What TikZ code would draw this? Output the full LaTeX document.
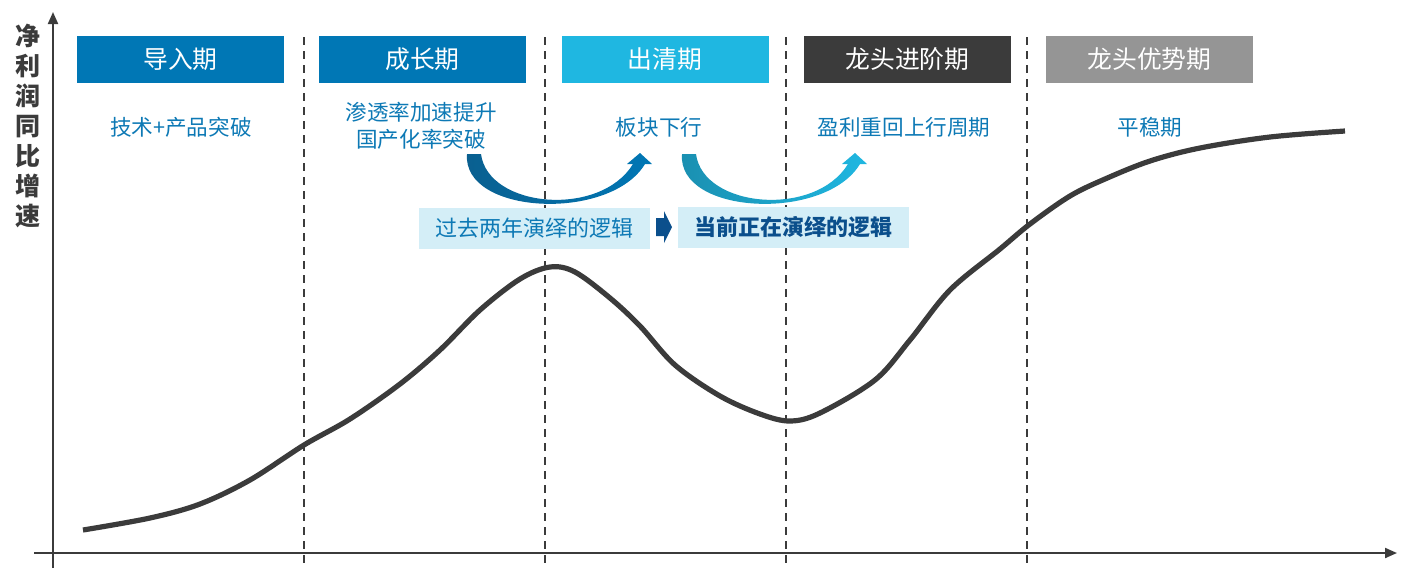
\documentclass[tikz,border=0pt]{standalone}
\usepackage{fontspec}
\setmainfont{Noto Sans CJK SC}
\usetikzlibrary{arrows.meta}
\definecolor{boxblue}{HTML}{0077B5}
\definecolor{boxcyan}{HTML}{1FB7E1}
\definecolor{boxdark}{HTML}{3B3B3B}
\definecolor{boxgray}{HTML}{959595}
\definecolor{txtblue}{HTML}{0D79B5}
\definecolor{lightbg}{HTML}{D4EEF7}
\definecolor{navy}{HTML}{0B4F8C}
\definecolor{arrdark}{HTML}{0A5F8F}
\definecolor{arrcyandark}{HTML}{1A8FB0}
\tikzset{
  phasebox/.style={minimum width=103.5pt,minimum height=23.5pt,inner sep=0pt,text=white,font=\fontsize{12.4}{14}\selectfont},
  sublabel/.style={text=txtblue,font=\fontsize{10.8}{13.5}\selectfont,align=center,inner sep=0pt},
  logicbox/.style={fill=lightbg,minimum width=115.5pt,minimum height=20.5pt,inner sep=0pt,font=\fontsize{11}{13}\selectfont},
  divider/.style={draw=boxdark,line width=0.75pt,dash pattern=on 4pt off 3pt},
  axis/.style={draw=boxdark,line width=1pt},
}
\newcommand\mycurvedarrow[2]{%
  \shade[left color=#1,right color=#2]
    (467,154) -- (481,154) .. controls (488,208) and (600,218) .. (633,164)
    -- (627,164) -- (640,153) -- (652,164) -- (645,164)
    .. controls (610,222) and (462,215) .. (467,154) -- cycle;}
\begin{document}
\begin{tikzpicture}[x=0.5pt,y=-0.5pt]
\useasboundingbox (0,0) rectangle (1410,570);
% axes
\coordinate (ybot) at (53,568);
\coordinate (ytop) at (53,12);
\coordinate (xl) at (34,553);
\coordinate (xr) at (1397,553);
\draw[axis,-{Triangle[length=6pt,width=5pt]}] (ybot) -- (ytop);
\draw[axis,-{Triangle[length=6pt,width=5pt]}] (xl) -- (xr);
% dividers
\foreach \x/\n in {304/a,545/b,786/c,1027/d}{
  \coordinate (dt\n) at (\x,37);
  \coordinate (db\n) at (\x,563);
  \draw[divider] (dt\n) -- (db\n);
}
% y label
\node[text=boxdark,font=\fontsize{12.5}{15}\selectfont\bfseries,align=center,inner sep=0pt,anchor=north] (ylabel) at (28,24)
  {净\\利\\润\\同\\比\\增\\速};
% phase boxes
\node[phasebox,fill=boxblue] (p1) at (180.5,59.5) {导入期};
\node[phasebox,fill=boxblue] (p2) at (422.5,59.5) {成长期};
\node[phasebox,fill=boxcyan] (p3) at (665,59.5) {出清期};
\node[phasebox,fill=boxdark] (p4) at (907.5,59.5) {龙头进阶期};
\node[phasebox,fill=boxgray] (p5) at (1149.5,59.5) {龙头优势期};
% sub labels
\node[sublabel] (s1) at (181,127) {技术+产品突破};
\node[sublabel] (s2) at (421,125.5) {渗透率加速提升\\国产化率突破};
\node[sublabel] (s3) at (659,127) {板块下行};
\node[sublabel] (s4) at (904,127) {盈利重回上行周期};
\node[sublabel] (s5) at (1150,127) {平稳期};
% curved arrows
\mycurvedarrow{arrdark}{boxblue}
\begin{scope}[xshift=107.5pt]
\mycurvedarrow{arrcyandark}{boxcyan}
\end{scope}
% logic boxes
\node[logicbox,text=txtblue] (l1) at (534.5,228.5) {过去两年演绎的逻辑};
\node[logicbox,text=navy,font=\fontsize{11}{13}\selectfont\bfseries] (l2) at (793.5,227.5) {当前正在演绎的逻辑};
\fill[navy] (656,218) -- (664,218) -- (664,211) -- (672,227) -- (664,243) -- (664,236) -- (656,236) -- cycle;
% main curve
\draw[boxdark,line width=2.6pt,line cap=butt] plot[smooth,tension=0.55] coordinates {
 (83,530) (150,518) (200,504) (250,480) (304,445) (350,419) (400,384) (440,350)
 (480,310) (520,279) (550,267) (575,272) (610,298) (640,326) (675,365) (720,396)
 (760,414) (790,421) (820,413) (875,380) (910,340) (950,290) (1000,249) (1030,224)
 (1070,196) (1105,179) (1150,161) (1200,148) (1270,137) (1345,131)};
\end{tikzpicture}
\end{document}
